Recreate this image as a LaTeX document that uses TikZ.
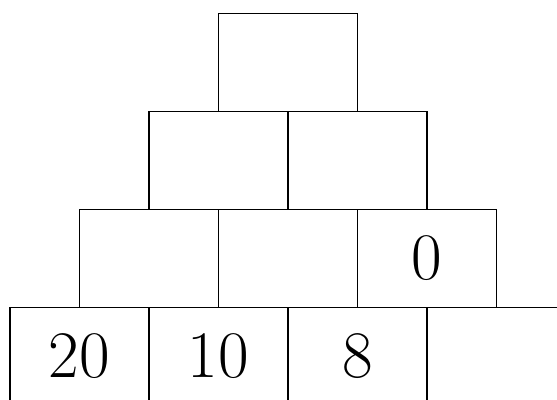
\documentclass[tikz,border=0pt]{standalone}
\usepackage{fontspec}
\usetikzlibrary{positioning}
\tikzset{
  pyr/cell/.style={
    draw, line width=0.6pt, minimum width=55.6pt, minimum height=39.2pt,
    inner sep=0pt, outer sep=0pt, font=\fontsize{26.6}{30}\selectfont
  }
}
\begin{document}
\begin{tikzpicture}[x=0.4pt, y=-0.4pt]
  \useasboundingbox (0,0) rectangle (557,399);
  \clip (0,0) rectangle (557,399);
  % top of the pyramid
  \node[pyr/cell, anchor=north west] (top) at (218.5,13.5) {};
  % second row
  \node[pyr/cell, anchor=north east] (mid1) at (top.south) {};
  \node[pyr/cell, right=0pt of mid1] (mid2) {};
  % third row
  \node[pyr/cell, anchor=north east] (row1) at (mid1.south) {};
  \node[pyr/cell, right=0pt of row1] (row2) {};
  \node[pyr/cell, right=0pt of row2] (row3) {0};
  % base row
  \node[pyr/cell, anchor=north east] (base1) at (row1.south) {20};
  \node[pyr/cell, right=0pt of base1] (base2) {10};
  \node[pyr/cell, right=0pt of base2] (base3) {8};
  \node[pyr/cell, right=0pt of base3] (base4) {};
\end{tikzpicture}
\end{document}
